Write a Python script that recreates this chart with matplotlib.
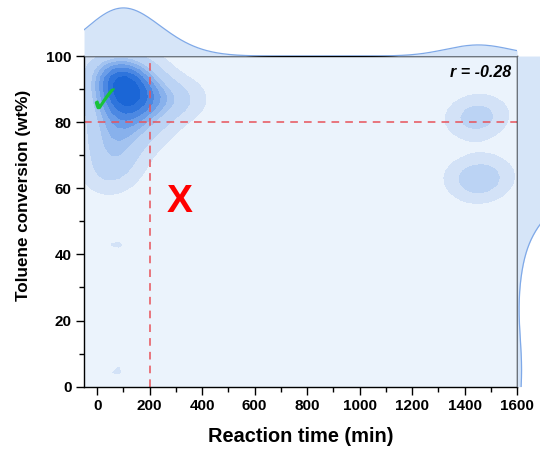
import numpy as np
import matplotlib
matplotlib.use("Agg")
import matplotlib.pyplot as plt

plt.rcParams['font.family'] = ['Liberation Sans', 'DejaVu Sans']

# reaction time (min) / toluene conversion (wt%)
time_min = [25, 65, 105, 145,
            15, 55, 95, 135, 185,
            35, 75, 115, 155, 215,
            15, 65, 105, 145, 195, 265, 335,
            45, 95, 135, 185, 245, 305,
            15, 75, 125, 175,
            35, 85, 145, 215,
            15, 65, 125,
            45, 105,
            25, 75,
            45,
            1420, 1450, 1480, 1440,
            1410, 1450, 1480, 1440, 1500,
            75, 75]
conversion = [97, 97, 97, 97,
              94, 94, 94, 94, 94,
              91, 91, 91, 91, 91,
              88, 88, 88, 88, 88, 88, 88,
              85, 85, 85, 85, 85, 85,
              82, 82, 82, 82,
              78, 78, 78, 78,
              74, 74, 74,
              70, 70,
              66, 66,
              62,
              80, 82, 83, 81,
              64, 62, 63, 61, 65,
              43, 5]
r_value = -0.28
x_cut, y_cut = 200, 80

x = np.array(time_min, float)
y = np.array(conversion, float)

fig = plt.figure(figsize=(5.4, 4.51), dpi=100)
ax = fig.add_axes([0.1556, 0.1426, 0.8019, 0.7332])
ax_top = fig.add_axes([0.1556, 0.8758, 0.8019, 0.113], sharex=ax)
ax_right = fig.add_axes([0.9574, 0.1426, 0.10, 0.7332], sharey=ax)

# 2D kernel density on a coarse grid
bx, by = 70, 4
gx = np.linspace(-100, 1700, 70)
gy = np.linspace(-10, 110, 60)
GX, GY = np.meshgrid(gx, gy)
Z = np.zeros_like(GX)
for xi, yi in zip(x, y):
    Z += np.exp(-0.5 * (((GX - xi) / bx) ** 2 + ((GY - yi) / by) ** 2))
zmax = Z.max()
levels = [0.95, 2.6] + list(np.linspace(0.42, 0.9, 6) * zmax) + [zmax * 1.01]
cols = ['#D3E2F7', '#BBD3F4', '#A3C3F0', '#88B1EC', '#6A9DE8',
        '#4C88E2', '#2E74DC', '#1B66D6']
ax.set_facecolor('#EBF3FC')
ax.contourf(GX, GY, Z, levels=levels, colors=cols[:len(levels) - 1])

ax.axvline(x_cut, color='#E8525A', linestyle=(0, (5, 4)), lw=1.1)
ax.axhline(y_cut, color='#E8525A', linestyle=(0, (5, 4)), lw=1.1)

ax.text(0.987, 0.972, f'r = {r_value:.2f}', transform=ax.transAxes, ha='right', va='top',
        fontsize=11.5, fontweight='bold', fontstyle='italic')
ax.text(27, 86, '\u2713', color='#19C23A', fontsize=28, fontweight='bold',
        family=['DejaVu Sans'], ha='center', va='center')
ax.text(314, 56, 'X', color='#FF0000', fontsize=28, fontweight='bold', ha='center', va='center')

ax.set_xlim(-50, 1600)
ax.set_ylim(0, 100)
ax.set_xticks(range(0, 1601, 200))
ax.set_xticks(range(100, 1600, 200), minor=True)
ax.set_yticks(range(0, 101, 20))
ax.set_yticks(range(10, 100, 20), minor=True)
ax.tick_params(which='major', direction='out', length=5.5, width=1, labelsize=11)
ax.tick_params(which='minor', direction='out', length=3.5, width=1)
for lab in ax.get_xticklabels() + ax.get_yticklabels():
    lab.set_fontweight('bold')
for s in ax.spines.values():
    s.set_linewidth(1)
ax.set_xlabel('Reaction time (min)', fontsize=14.4, fontweight='bold', labelpad=10)
ax.set_ylabel('Toluene conversion (wt%)', fontsize=12.3, fontweight='bold')
ax.yaxis.set_label_coords(-0.122, 0.58)

# marginal densities
tx = np.linspace(-50, 1600, 400)
dx = sum(np.exp(-0.5 * ((tx - xi) / 120) ** 2) for xi in x)
ax_top.fill_between(tx, 0, dx, color='#D6E5F8', lw=0)
ax_top.plot(tx, dx, color='#7FA9E8', lw=0.9)
ax_top.set_ylim(0, dx.max() * 1.06)
ax_top.axis('off')

ty = np.linspace(0, 100, 300)
dy = sum(np.exp(-0.5 * ((ty - yi) / 11) ** 2) for yi in y)
ax_right.fill_betweenx(ty, 0, dy, color='#D6E5F8', lw=0)
ax_right.plot(dy, ty, color='#7FA9E8', lw=0.9)
ax_right.set_xlim(0, np.interp(43, ty, dy) * 54 / 12)
ax_right.axis('off')

fig.savefig('out.png', dpi=100)
